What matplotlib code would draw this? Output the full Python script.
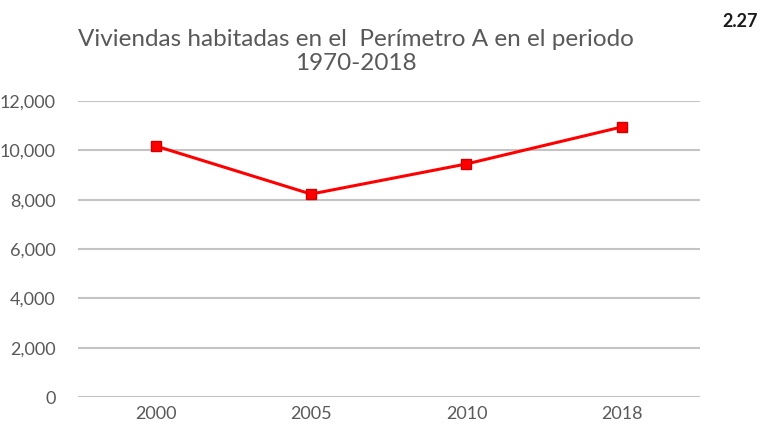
import matplotlib.pyplot as plt
import numpy as np

years = ["2000", "2005", "2010", "2018"]
viviendas = [10180, 8230, 9450, 10950]
yticks = [0, 2000, 4000, 6000, 8000, 10000, 12000]

plt.rcParams['font.family'] = ['Lato', 'DejaVu Sans']

fig = plt.figure(figsize=(7.63, 4.28), dpi=100)
ax = fig.add_axes([0.102, 0.072, 0.815, 0.692])

x = np.arange(len(years))
ax.plot(x, viviendas, '-s', color='#ff0000', lw=2.2, markersize=7,
        markerfacecolor='#ff0000', markeredgecolor='#d00000', zorder=3)

ax.set_xlim(-0.5, len(years) - 0.5)
ax.set_ylim(0, 12000)
ax.set_yticks(yticks)
ax.set_yticklabels(["{:,}".format(v) for v in yticks])
ax.set_xticks(x)
ax.set_xticklabels(years)

ax.grid(axis='y', color='#c4c4c4', lw=1.5)
ax.set_axisbelow(True)
for s in ax.spines.values():
    s.set_visible(False)
ax.tick_params(length=0, labelsize=13, colors='#595959', pad=6)
ax.tick_params(axis='y', pad=16)

fig.text(0.466, 0.88, "Viviendas habitadas en el  Perímetro A en el periodo\n1970-2018",
         ha='center', va='center', fontsize=17.5, color='#595959', linespacing=1.2)
fig.text(0.993, 0.95, "2.27", ha='right', va='center', fontsize=13,
         fontweight='bold', color='#1a1a1a')

fig.savefig("out.png", dpi=100)
